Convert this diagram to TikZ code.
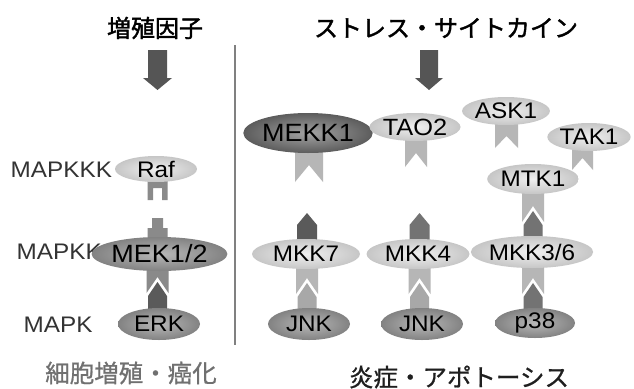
\documentclass[tikz,border=0pt]{standalone}
\usepackage{fontspec}
\setmainfont{Liberation Sans}[FakeStretch=1.08]
\newfontfamily\cjk{Noto Sans CJK JP}[FakeBold=1.6]
\newfontfamily\cjkfoot{Noto Sans CJK JP}[FakeBold=0.8]
\usetikzlibrary{shapes.geometric,backgrounds}
\definecolor{lightin}{HTML}{EFEFEF}
\definecolor{lightout}{HTML}{C6C6C6}
\definecolor{medin}{HTML}{B8B8B8}
\definecolor{medout}{HTML}{828282}
\definecolor{darkin}{HTML}{A4A4A4}
\definecolor{darkout}{HTML}{5C5C5C}
\definecolor{conlight}{HTML}{B6B6B6}
\definecolor{conmed}{HTML}{8A8A8A}
\definecolor{condark}{HTML}{5A5A5A}
\definecolor{arrowgray}{HTML}{555555}
\definecolor{divider}{HTML}{808080}
\definecolor{labelgray}{HTML}{333333}
\definecolor{footgray}{HTML}{707070}
\begin{document}
\begin{tikzpicture}[x=1pt,y=-1pt,
  enz/.style={ellipse, inner sep=0pt, shade, text=black, font=\fontsize{22.5}{24}\selectfont},
  light/.style={enz, inner color=lightin, outer color=lightout},
  med/.style={enz, inner color=medin, outer color=medout},
  dark/.style={enz, inner color=darkin, outer color=darkout},
  sz/.style 2 args={minimum width=#1, minimum height=#2},
  rowlabel/.style={anchor=west, inner sep=0pt, text=labelgray, font=\fontsize{22.5}{24}\selectfont},
  title/.style={inner sep=0pt, font=\cjk\fontsize{24}{26}\selectfont},
  foot/.style={inner sep=0pt, font=\cjkfoot\fontsize{24.5}{26}\selectfont},
  bigarrow/.style={fill=arrowgray},
  ribbon/.style={fill=conlight}
]
\useasboundingbox (0,0) rectangle (634,388);

% titles
\node[title] (gf) at (155,28) {増殖因子};
\node[title] (sc) at (446,28) {ストレス・サイトカイン};
\node[foot, text=footgray] (prolif) at (131,373) {細胞増殖・癌化};
\node[foot, text=black!88] (infl) at (459,377) {炎症・アポトーシス};

% big arrows
\fill[bigarrow] (148,50) -- (167,50) -- (167,78) -- (172,78) -- (157.5,90) -- (143,78) -- (148,78) -- cycle;
\fill[bigarrow] (420,50) -- (438,50) -- (438,78) -- (443,78) -- (429,90) -- (415,78) -- (420,78) -- cycle;

% divider
\draw[divider, line width=2] (235,45) -- (235,345);

% row labels
\node[rowlabel] (lkkk) at (10.5,170) {MAPKKK};
\node[rowlabel] (lkk) at (16.5,252) {MAPKK};
\node[rowlabel] (lk) at (23.5,325) {MAPK};

% enzymes
\node[light, sz={82}{26}] (raf) at (156,169) {Raf};
\node[med, sz={105}{34}, font=\fontsize{25}{26}\selectfont] (mek) at (159.5,254) {MEK1/2};
\node[med, sz={82}{32}] (erk) at (159,324) {ERK};

\node[dark, sz={104}{40}, font=\fontsize{25}{26}\selectfont] (mekk1) at (308,133) {MEKK1};
\node[light, sz={83}{28}, font=\fontsize{23.5}{26}\selectfont] (tao2) at (415,127) {TAO2};
\node[light, sz={82}{28}] (ask1) at (506,111) {ASK1};
\node[light, sz={78}{28}] (tak1) at (589,137) {TAK1};
\node[light, sz={80}{30}] (mtk1) at (533,179) {MTK1};

\node[light, sz={108}{30}] (mkk7) at (306,254) {MKK7};
\node[light, sz={103}{30}] (mkk4) at (418,254) {MKK4};
\node[light, sz={105}{32}] (mkk36) at (532,252) {MKK3/6};

\node[med, sz={82}{32}] (jnka) at (309,324) {JNK};
\node[med, sz={82}{32}] (jnkb) at (422,324) {JNK};
\node[med, sz={80}{30}] (p38) at (535,323) {p38};

% connector shapes behind the enzymes
\begin{scope}[on background layer]
  \fill[white] (0,0) rectangle (634,388);
  % Raf -| MEK1/2 (blocked)
  \fill[conmed] (147.5,170) -- (167.5,170) -- (167.5,200) -- (162,200) -- (162,188) -- (153,188) -- (153,200) -- (147.5,200) -- cycle;
  \fill[conmed] (152,218) -- (163,218) -- (163,228) -- (167.5,228) -- (167.5,250) -- (147.5,250) -- (147.5,228) -- (152,228) -- cycle;
  % MEK1/2 - ERK
  \fill[conmed] (146.5,255) -- (168.5,255) -- (168.5,293) -- (157.5,277) -- (146.5,293) -- cycle;
  \fill[condark] (148,320) -- (148,296) -- (157.5,282) -- (167,296) -- (167,320) -- cycle;

  % ribbons under MAPKKKs
  \fill[ribbon] (295,140) -- (323,140) -- (323,182) -- (309,165) -- (295,182) -- cycle;
  \fill[ribbon] (405,130) -- (427,130) -- (427,167) -- (416,153) -- (405,167) -- cycle;
  \fill[ribbon] (495,115) -- (518,115) -- (518,148) -- (506.5,136) -- (495,148) -- cycle;
  \fill[ribbon] (572,140) -- (593,140) -- (593,170) -- (582.5,158) -- (572,170) -- cycle;

  % MKK7 column
  \fill[condark] (297,245) -- (297,225) -- (307,213) -- (317,225) -- (317,245) -- cycle;
  \fill[conlight] (296,260) -- (318,260) -- (318,294) -- (307,278) -- (296,294) -- cycle;
  \fill[conlight!92!black] (297.5,320) -- (297.5,297) -- (307,283) -- (316.5,297) -- (316.5,320) -- cycle;

  % MKK4 column
  \fill[condark!85!white] (409.5,245) -- (409.5,225) -- (419.5,213) -- (429.5,225) -- (429.5,245) -- cycle;
  \fill[conlight] (408.5,260) -- (430.5,260) -- (430.5,294) -- (419.5,278) -- (408.5,294) -- cycle;
  \fill[conlight!92!black] (410,320) -- (410,297) -- (419.5,283) -- (429,297) -- (429,320) -- cycle;

  % MTK1 - MKK3/6 - p38 column
  \fill[conlight] (522,185) -- (544,185) -- (544,222) -- (533,206) -- (522,222) -- cycle;
  \fill[condark!85!white] (523.5,245) -- (523.5,225) -- (533,211) -- (542.5,225) -- (542.5,245) -- cycle;
  \fill[conlight] (522,260) -- (544,260) -- (544,294) -- (533,278) -- (522,294) -- cycle;
  \fill[condark!85!white] (523.5,318) -- (523.5,297) -- (533,283) -- (542.5,297) -- (542.5,318) -- cycle;
\end{scope}
\end{tikzpicture}
\end{document}
